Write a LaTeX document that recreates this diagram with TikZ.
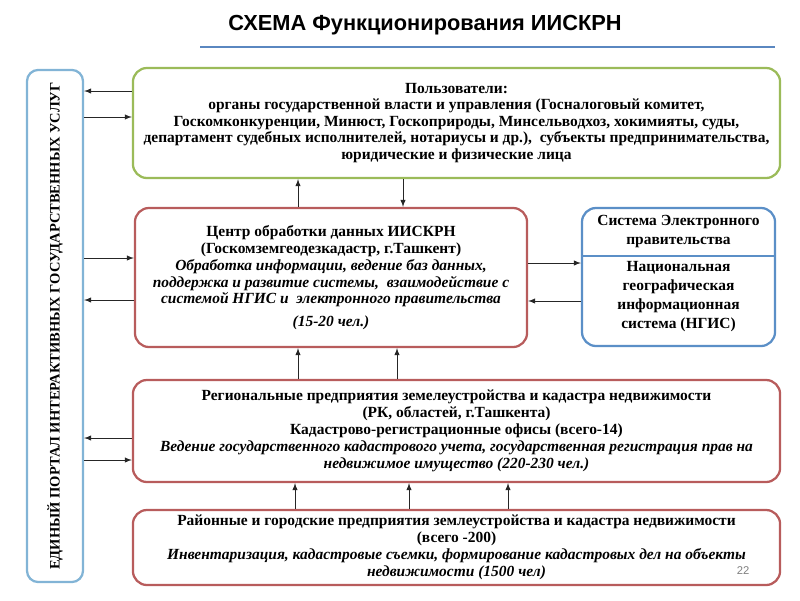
\documentclass[tikz,border=0pt]{standalone}
\usepackage{fontspec}
\setmainfont{Liberation Serif}
\newfontfamily\titlefont{Liberation Sans}
\usetikzlibrary{positioning,arrows}
\definecolor{gborder}{HTML}{9BBB59}
\definecolor{rborder}{HTML}{B85C5C}
\definecolor{sborder}{HTML}{5B8FC7}
\definecolor{pborder}{HTML}{82B4D6}
\definecolor{tline}{HTML}{5A87C0}
\tikzset{
 box/.style
  = {rectangle, draw, fill=white, rounded corners=10pt, line width=1.6pt,
     align=center, font=\bfseries\fontsize{11}{12}\selectfont},
 gbox/.style
  = {box, draw=gborder},
 rbox/.style
  = {box, draw=rborder},
 sbox/.style
  = {box, draw=sborder},
 pbox/.style
  = {box, draw=pborder, rounded corners=8pt, font=\bfseries\fontsize{10.3}{12}\selectfont},
 txt/.style
  = {align=center, font=\bfseries\fontsize{11}{13.5}\selectfont},
 l/.style
  = {draw, -latex, line width=0.7pt, black!85},
}
\begin{document}
\begin{tikzpicture}[x=0.025cm,y=-0.025cm]
    \useasboundingbox (0,0) rectangle (800,600);
    \node [font=\titlefont\bfseries\fontsize{15.5}{18}\selectfont] (title) at (425,25) {СХЕМА Функционирования ИИСКРН};
    \draw [tline, line width=2pt] (200,47) -- (775,47);

    \node [pbox, rotate=90, minimum width=12.8cm, minimum height=1.4cm] (portal) at (55,326)
      {ЕДИНЫЙ ПОРТАЛ ИНТЕРАКТИВНЫХ ГОСУДАРСТВЕННЫХ УСЛУГ};
    \node [gbox, minimum width=16.175cm, minimum height=2.75cm, font=\bfseries\fontsize{11}{11.7}\selectfont] (users) at (456.5,123)
      {Пользователи:\\ органы государственной власти и управления (Госналоговый комитет,\\
       Госкомконкуренции, Минюст, Госкоприроды, Минсельводхоз, хокимияты, суды,\\
       департамент судебных исполнителей, нотариусы и др.),\ \ субъекты предпринимательства,\\
       юридические и физические лица};
    \node [rbox, minimum width=9.8cm, minimum height=3.475cm] (dataproc) at (331,277.5)
      {Центр обработки данных ИИСКРН\\ (Госкомземгеодезкадастр, г.Ташкент)\\
       \textit{Обработка информации, ведение баз данных,}\\
       \textit{поддержка и развитие системы,\ \ взаимодействие с}\\
       \textit{системой НГИС и\ \ электронного правительства}\\[4pt]
       \textit{(15-20 чел.)}};
    \node [sbox, minimum width=4.825cm, minimum height=3.45cm] (egov) at (678.5,277) {};
    \node [txt] (egovtop) at (678.5,232) {Система Электронного\\ правительства};
    \node [txt] (ngis) at (678.5,297) {Национальная\\ географическая\\ информационная\\ система (НГИС)};
    \draw [sborder, line width=0.8pt] (egov.west |- 0,256) -- (egov.east |- 0,256);
    \node [rbox, minimum width=16.175cm, minimum height=2.55cm] (regional) at (456.5,431)
      {Региональные предприятия земелеустройства и кадастра недвижимости\\
       (РК, областей, г.Ташкента)\\ Кадастрово-регистрационные офисы (всего-14)\\
       \textit{Ведение государственного кадастрового учета, государственная регистрация прав на}\\
       \textit{недвижимое имущество (220-230 чел.)}};
    \node [rbox, minimum width=16.175cm, minimum height=1.875cm, inner sep=2pt] (district) at (456.5,547.5)
      {Районные и городские предприятия землеустройства и кадастра недвижимости\\
       (всего -200)\\
       \textit{Инвентаризация, кадастровые съемки, формирование кадастровых дел на объекты}\\
       \textit{недвижимости (1500 чел)}};
    \node [gray, font=\titlefont\fontsize{8}{9}\selectfont] (pagenum) at (743,571) {22};

    \path [l] (users.west |- 0,91) -- (portal.south |- 0,91);
    \path [l] (portal.south |- 0,117) -- (users.west |- 0,117);
    \path [l] (portal.south |- 0,258) -- (dataproc.west |- 0,258);
    \path [l] (dataproc.west |- 0,300) -- (portal.south |- 0,300);
    \path [l] (regional.west |- 0,438) -- (portal.south |- 0,438);
    \path [l] (portal.south |- 0,460) -- (regional.west |- 0,460);
    \path [l] (dataproc.north -| 298,0) -- (users.south -| 298,0);
    \path [l] (users.south -| 403,0) -- (dataproc.north -| 403,0);
    \path [l] (regional.north -| 298,0) -- (dataproc.south -| 298,0);
    \path [l] (regional.north -| 397,0) -- (dataproc.south -| 397,0);
    \path [l] (district.north -| 295,0) -- (regional.south -| 295,0);
    \path [l] (district.north -| 409,0) -- (regional.south -| 409,0);
    \path [l] (district.north -| 508,0) -- (regional.south -| 508,0);
    \path [l] (dataproc.east |- 0,263) -- (egov.west |- 0,263);
    \path [l] (egov.west |- 0,301) -- (dataproc.east |- 0,301);
  \end{tikzpicture}
\end{document}
